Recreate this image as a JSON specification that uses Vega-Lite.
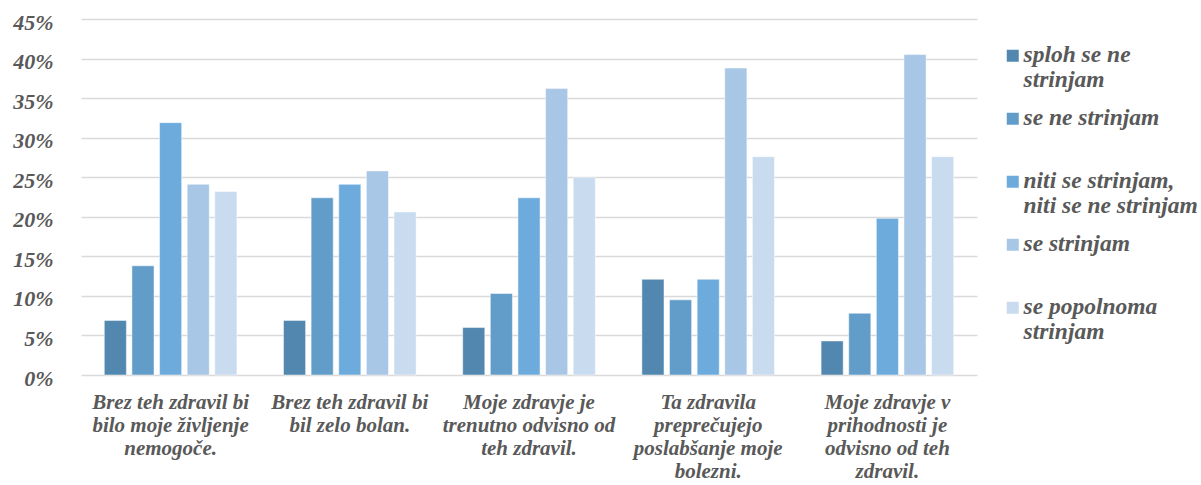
{
  "$schema": "https://vega.github.io/schema/vega-lite/v6.json",
  "autosize": {"type": "none"},
  "width": 896,
  "height": 356,
  "padding": {"left": 81, "top": 19, "right": 224, "bottom": 110},
  "background": "white",
  "data": {
    "values": [
      {"trditev": "Brez teh zdravil bi|bilo moje življenje|nemogoče.", "odgovor": "sploh se ne|strinjam", "r": 1, "delez": 0.069},
      {"trditev": "Brez teh zdravil bi|bilo moje življenje|nemogoče.", "odgovor": "se ne strinjam|", "r": 2, "delez": 0.138},
      {"trditev": "Brez teh zdravil bi|bilo moje življenje|nemogoče.", "odgovor": "niti se strinjam,|niti se ne strinjam", "r": 3, "delez": 0.319},
      {"trditev": "Brez teh zdravil bi|bilo moje življenje|nemogoče.", "odgovor": "se strinjam|", "r": 4, "delez": 0.241},
      {"trditev": "Brez teh zdravil bi|bilo moje življenje|nemogoče.", "odgovor": "se popolnoma|strinjam", "r": 5, "delez": 0.232},

      {"trditev": "Brez teh zdravil bi|bil zelo bolan.", "odgovor": "sploh se ne|strinjam", "r": 1, "delez": 0.069},
      {"trditev": "Brez teh zdravil bi|bil zelo bolan.", "odgovor": "se ne strinjam|", "r": 2, "delez": 0.224},
      {"trditev": "Brez teh zdravil bi|bil zelo bolan.", "odgovor": "niti se strinjam,|niti se ne strinjam", "r": 3, "delez": 0.241},
      {"trditev": "Brez teh zdravil bi|bil zelo bolan.", "odgovor": "se strinjam|", "r": 4, "delez": 0.258},
      {"trditev": "Brez teh zdravil bi|bil zelo bolan.", "odgovor": "se popolnoma|strinjam", "r": 5, "delez": 0.206},

      {"trditev": "Moje zdravje je|trenutno odvisno od|teh zdravil.", "odgovor": "sploh se ne|strinjam", "r": 1, "delez": 0.060},
      {"trditev": "Moje zdravje je|trenutno odvisno od|teh zdravil.", "odgovor": "se ne strinjam|", "r": 2, "delez": 0.103},
      {"trditev": "Moje zdravje je|trenutno odvisno od|teh zdravil.", "odgovor": "niti se strinjam,|niti se ne strinjam", "r": 3, "delez": 0.224},
      {"trditev": "Moje zdravje je|trenutno odvisno od|teh zdravil.", "odgovor": "se strinjam|", "r": 4, "delez": 0.362},
      {"trditev": "Moje zdravje je|trenutno odvisno od|teh zdravil.", "odgovor": "se popolnoma|strinjam", "r": 5, "delez": 0.250},

      {"trditev": "Ta zdravila|preprečujejo|poslabšanje moje|bolezni.", "odgovor": "sploh se ne|strinjam", "r": 1, "delez": 0.121},
      {"trditev": "Ta zdravila|preprečujejo|poslabšanje moje|bolezni.", "odgovor": "se ne strinjam|", "r": 2, "delez": 0.095},
      {"trditev": "Ta zdravila|preprečujejo|poslabšanje moje|bolezni.", "odgovor": "niti se strinjam,|niti se ne strinjam", "r": 3, "delez": 0.121},
      {"trditev": "Ta zdravila|preprečujejo|poslabšanje moje|bolezni.", "odgovor": "se strinjam|", "r": 4, "delez": 0.388},
      {"trditev": "Ta zdravila|preprečujejo|poslabšanje moje|bolezni.", "odgovor": "se popolnoma|strinjam", "r": 5, "delez": 0.276},

      {"trditev": "Moje zdravje v|prihodnosti je|odvisno od teh|zdravil.", "odgovor": "sploh se ne|strinjam", "r": 1, "delez": 0.043},
      {"trditev": "Moje zdravje v|prihodnosti je|odvisno od teh|zdravil.", "odgovor": "se ne strinjam|", "r": 2, "delez": 0.078},
      {"trditev": "Moje zdravje v|prihodnosti je|odvisno od teh|zdravil.", "odgovor": "niti se strinjam,|niti se ne strinjam", "r": 3, "delez": 0.198},
      {"trditev": "Moje zdravje v|prihodnosti je|odvisno od teh|zdravil.", "odgovor": "se strinjam|", "r": 4, "delez": 0.405},
      {"trditev": "Moje zdravje v|prihodnosti je|odvisno od teh|zdravil.", "odgovor": "se popolnoma|strinjam", "r": 5, "delez": 0.276}
    ]
  },
  "mark": {"type": "bar", "stroke": "#ffffff", "strokeOpacity": 0.6, "strokeWidth": 0.8},
  "encoding": {
    "x": {
      "field": "trditev",
      "type": "nominal",
      "sort": null,
      "scale": {"paddingInner": 0.26, "paddingOuter": 0.13},
      "axis": {
        "title": null,
        "domain": false,
        "ticks": false,
        "labelAngle": 0,
        "labelAlign": "center",
        "labelBaseline": "top",
        "labelPadding": 10,
        "labelExpr": "split(datum.label, '|')",
        "labelFont": "Liberation Serif",
        "labelFontSize": 21,
        "labelFontWeight": "bold",
        "labelFontStyle": "italic",
        "labelColor": "#595959",
        "labelLineHeight": 23,
        "labelLimit": 300
      }
    },
    "xOffset": {
      "field": "odgovor",
      "type": "nominal",
      "sort": {"field": "r"},
      "scale": {"paddingInner": 0.2, "paddingOuter": 0}
    },
    "y": {
      "field": "delez",
      "type": "quantitative",
      "scale": {"domain": [0, 0.45], "nice": false},
      "axis": {
        "title": null,
        "values": [0, 0.05, 0.1, 0.15, 0.2, 0.25, 0.3, 0.35, 0.4, 0.45],
        "format": ".0%",
        "domain": false,
        "ticks": false,
        "grid": true,
        "gridColor": "#d9d9d9",
        "gridWidth": 1.4,
        "labelPadding": 28,
        "labelOffset": -3,
        "labelFont": "Liberation Serif",
        "labelFontSize": 22,
        "labelFontWeight": "bold",
        "labelFontStyle": "italic",
        "labelColor": "#595959"
      }
    },
    "color": {
      "field": "odgovor",
      "type": "nominal",
      "sort": {"field": "r"},
      "scale": {
        "domain": ["sploh se ne|strinjam", "se ne strinjam|", "niti se strinjam,|niti se ne strinjam", "se strinjam|", "se popolnoma|strinjam"],
        "range": ["#5288b0", "#629dc9", "#6dabdd", "#a8c6e5", "#c8dbef"]
      },
      "legend": {
        "title": null,
        "orient": "none",
        "legendX": 920,
        "legendY": 25,
        "direction": "vertical",
        "symbolType": "square",
        "symbolSize": 144,
        "symbolStrokeWidth": 0,
        "symbolOpacity": 1,
        "labelExpr": "split(datum.label, '|')",
        "labelFont": "Liberation Serif",
        "labelFontSize": 23.5,
        "labelFontWeight": "bold",
        "labelFontStyle": "italic",
        "labelColor": "#595959",
        "labelBaseline": "alphabetic",
        "labelOffset": -1,
        "labelLimit": 300,
        "rowPadding": 13
      }
    }
  },
  "config": {
    "view": {"stroke": null},
    "style": {"guide-label": {"lineHeight": 25, "dy": 6}}
  }
}
